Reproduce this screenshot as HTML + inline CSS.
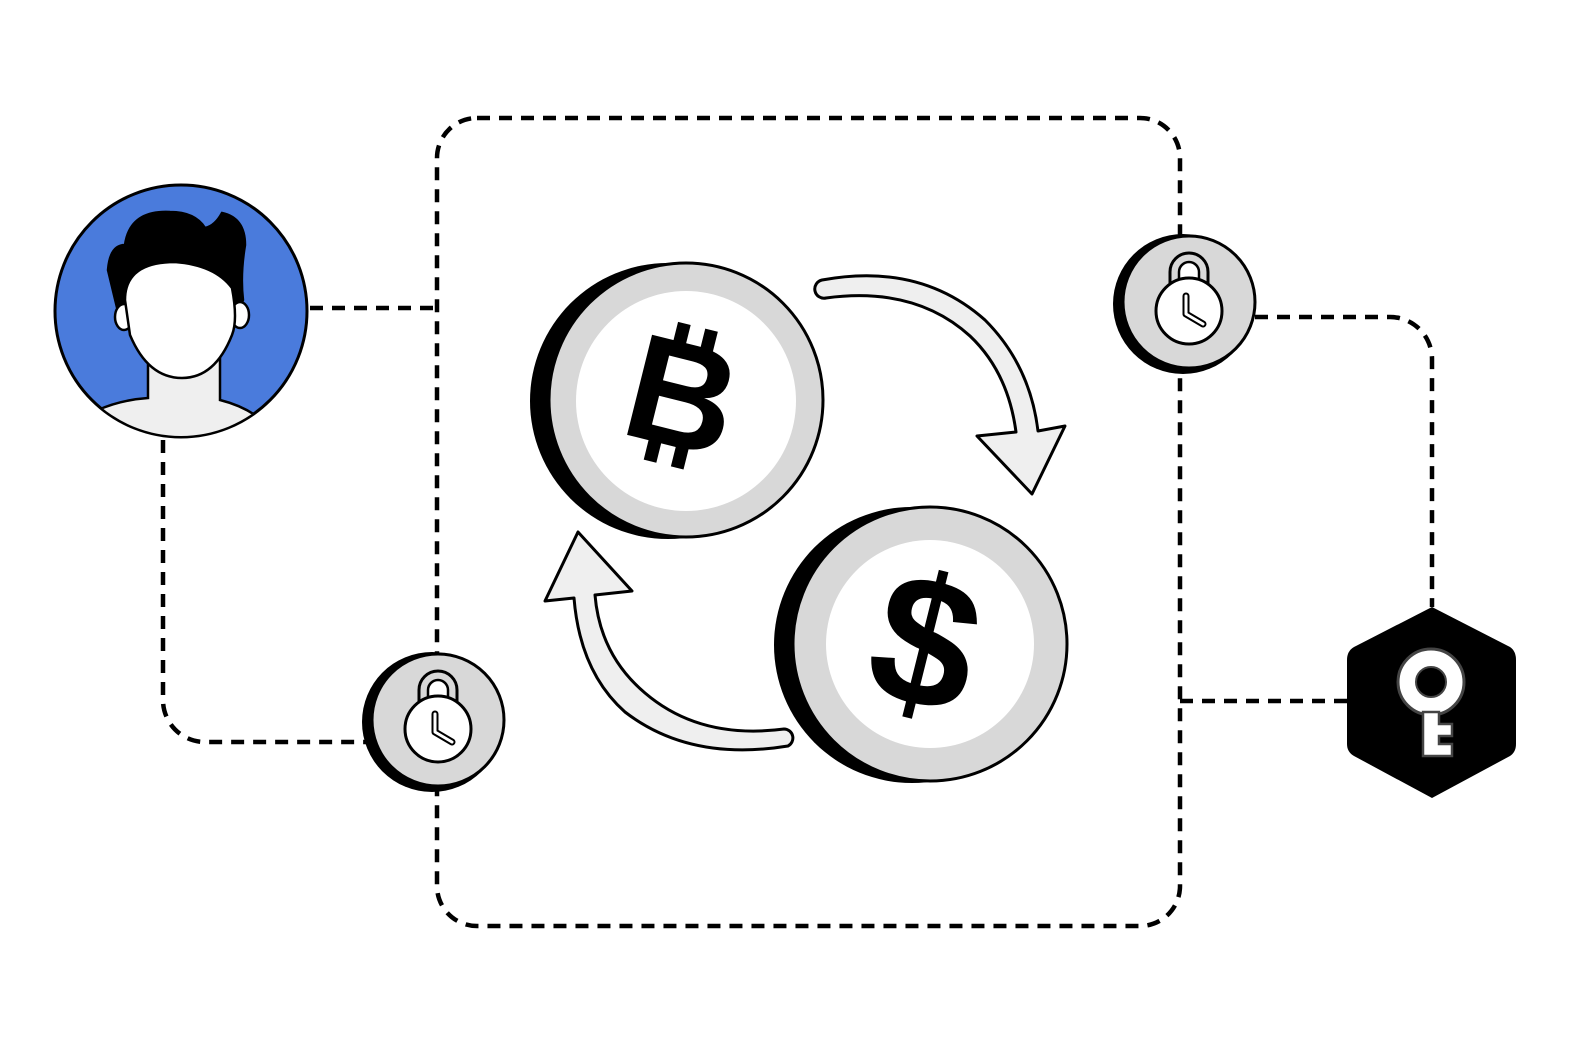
<!DOCTYPE html>
<html><head><meta charset="utf-8"><style>html,body{margin:0;padding:0;background:#fff}svg{display:block}</style></head>
<body>
<svg width="1584" height="1056" viewBox="0 0 1584 1056" xmlns="http://www.w3.org/2000/svg">
<defs>
<g id="lock">
  <circle cx="-6" cy="2" r="70" fill="#000"/>
  <circle cx="0" cy="0" r="66" fill="#d8d8d8" stroke="#000" stroke-width="3"/>
  <path d="M-19,-18 V-30 a19,19 0 0 1 38,0 V-18" fill="#d8d8d8" stroke="#000" stroke-width="3"/>
  <path d="M-10,-18 V-30 a10,10 0 0 1 20,0 V-18" fill="#fff" stroke="#000" stroke-width="2.5"/>
  <circle cx="0" cy="9" r="33" fill="#fff" stroke="#000" stroke-width="3"/>
  <path d="M-3,-6 V12 L14,22" fill="none" stroke="#000" stroke-width="7" stroke-linecap="round" stroke-linejoin="round"/>
  <path d="M-3,-6 V12 L14,22" fill="none" stroke="#fff" stroke-width="3" stroke-linecap="round" stroke-linejoin="round"/>
</g>
</defs>
<g fill="none" stroke="#000" stroke-width="4.5" stroke-dasharray="13,9">
  <path d="M477,118 H1140 a40,40 0 0 1 40,40 V886 a40,40 0 0 1 -40,40 H477 a40,40 0 0 1 -40,-40 V158 a40,40 0 0 1 40,-40 Z"/>
  <path d="M310,308 H437"/>
  <path d="M163,440 V700 a42,42 0 0 0 42,42 H368"/>
  <path d="M1255,317 H1390 a42,42 0 0 1 42,42 V607"/>
  <path d="M1180,701 H1347"/>
</g>
<!-- avatar -->
<clipPath id="ac"><circle cx="181" cy="311" r="125"/></clipPath>
<circle cx="181" cy="311" r="126" fill="#4a7bdc" stroke="#000" stroke-width="3"/>
<g clip-path="url(#ac)" stroke="#000" stroke-width="2.5">
  <path d="M98,410 Q120,400 148,398 V350 H220 V400 Q240,405 255,415 L255,450 H98 Z" fill="#efefef"/>
  <path d="M125,245 Q130,210 170,212 Q195,212 205,228 Q215,226 222,213 Q245,218 245,245 Q240,275 243,300 L230,330 L120,320 L108,270 Q110,245 125,245 Z" fill="#000"/>
  <ellipse cx="124" cy="317" rx="9" ry="13" fill="#fff"/>
  <ellipse cx="240" cy="315" rx="9" ry="13" fill="#fff"/>
  <path d="M125,300 Q125,262 175,262 Q215,265 232,288 Q238,320 232,335 Q215,378 182,378 Q148,378 130,335 Z" fill="#fff"/>
</g>
<!-- arrows -->
<g fill="#efefef" stroke="#000" stroke-width="3" stroke-linejoin="round">
  <path d="M822,280 Q920,262 985,320 Q1030,365 1038,431 L1065,426 L1032,494 L977,436 L1016,432 Q1008,372 970,336 Q915,286 826,298 A9,9 0 0 1 822,280 Z"/>
  <path d="M788,746 Q690,762 625,712 Q580,672 574,598 L545,601 L578,532 L632,591 L595,595 Q600,655 645,693 Q700,740 784,729 A9,9 0 0 1 788,746 Z"/>
</g>
<!-- bitcoin coin -->
<circle cx="668" cy="401" r="138" fill="#000"/>
<circle cx="686" cy="400" r="137" fill="#d8d8d8" stroke="#000" stroke-width="3"/>
<circle cx="686" cy="401" r="110" fill="#fff"/>
<g transform="translate(682,397) rotate(14)" fill="#000">
  <text x="0" y="50" font-family="Liberation Sans, sans-serif" font-weight="bold" font-size="150" text-anchor="middle">B</text>
  <rect x="-22" y="-72" width="13" height="24"/><rect x="6" y="-72" width="13" height="24"/>
  <rect x="-22" y="46" width="13" height="24"/><rect x="6" y="46" width="13" height="24"/>
</g>
<!-- dollar coin -->
<circle cx="912" cy="645" r="138" fill="#000"/>
<circle cx="930" cy="644" r="137" fill="#d8d8d8" stroke="#000" stroke-width="3"/>
<circle cx="930" cy="644" r="104" fill="#fff"/>
<text x="925" y="706" transform="rotate(14 925 644)" font-family="Liberation Sans, sans-serif" font-weight="bold" font-size="185" text-anchor="middle" fill="#000">$</text>
<!-- locks -->
<use href="#lock" x="438" y="720"/>
<use href="#lock" x="1189" y="302"/>
<!-- key hex -->
<path d="M1432,607 L1510,647 Q1516,651 1516,660 V744 Q1516,752 1510,756 L1432,798 L1354,756 Q1347,752 1347,744 V660 Q1347,651 1354,647 Z" fill="#000"/>
<circle cx="1431" cy="682" r="33" fill="#fff" stroke="#444" stroke-width="3"/>
<circle cx="1431" cy="682" r="15" fill="#000" stroke="#444" stroke-width="2"/>
<path d="M1423,712 H1439 V724 H1452 V736 H1439 V744 H1452 V756 H1423 Z" fill="#fff" stroke="#444" stroke-width="2.5"/>
</svg>
</body></html>
